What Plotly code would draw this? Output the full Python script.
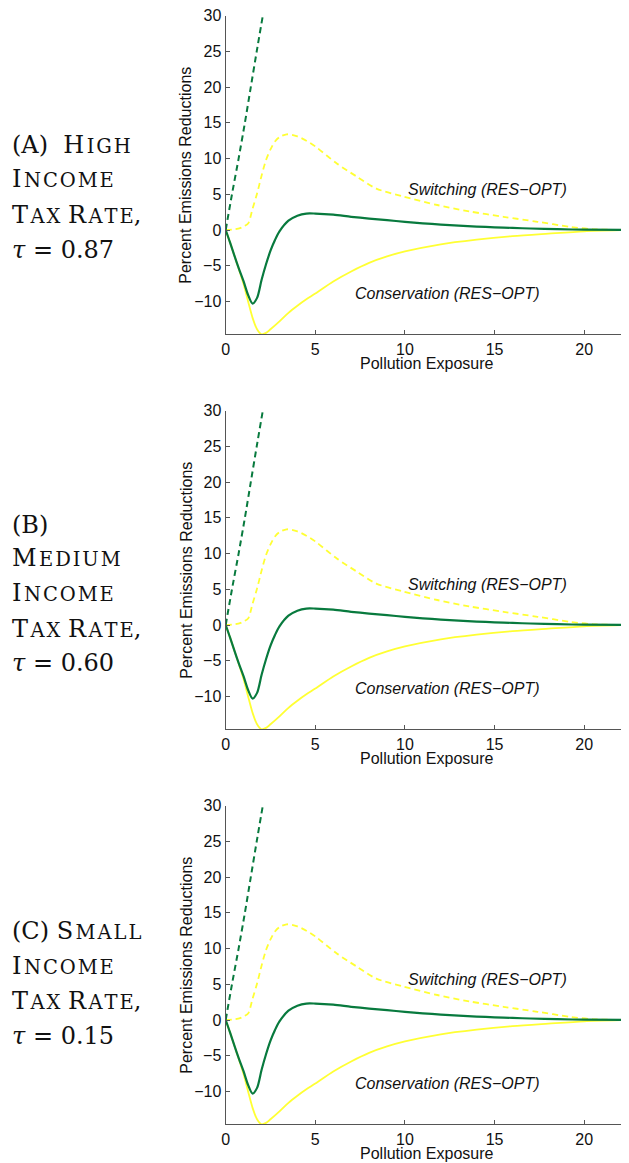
import plotly.graph_objects as go

# ---- data ----
green_solid_x = [0, 0.25, 0.5, 0.75, 1.0, 1.25, 1.5, 1.75, 2.0, 2.25, 2.5, 2.75, 3.0, 3.5, 4.0, 4.5, 5.0, 6.0, 7.0, 8.0, 9.0, 10, 11, 12, 13, 14, 15, 16, 17, 18.5, 20, 22.5]
green_solid_y = [0, -1.8, -3.7, -5.5, -7.2, -9.1, -10.3, -9.5, -7.0, -4.8, -2.9, -1.4, -0.2, 1.3, 2.0, 2.3, 2.3, 2.15, 1.85, 1.6, 1.37, 1.15, 0.94, 0.76, 0.61, 0.48, 0.38, 0.29, 0.21, 0.11, 0.05, 0.0]

green_dash_x = [0, 0.35, 0.72, 1.07, 1.4, 1.73, 2.07]
green_dash_y = [0, 5, 10, 15, 20, 25, 30]

yellow_dash_x = [0, 0.5, 0.8, 1.0, 1.25, 1.5, 1.75, 2.0, 2.25, 2.5, 2.75, 3.0, 3.4, 4.0, 4.5, 5.0, 6.2, 7.3, 8.4, 9.9, 11.8, 13.6, 15.5, 17.4, 19.2, 20.5, 22.5]
yellow_dash_y = [0, 0.1, 0.25, 0.5, 0.9, 3.0, 5.1, 7.6, 9.8, 11.3, 12.4, 13.0, 13.4, 13.1, 12.5, 11.7, 9.3, 7.5, 5.8, 4.7, 3.5, 2.6, 1.85, 1.15, 0.45, 0.1, 0.0]

yellow_solid_x = [0, 0.25, 0.5, 0.75, 1.0, 1.25, 1.5, 1.75, 2.0, 2.25, 2.5, 3.0, 3.5, 4.0, 4.5, 5.0, 6.0, 7.0, 8.0, 9.0, 10, 12, 14, 16, 18, 20, 22.5]
yellow_solid_y = [0, -1.8, -3.7, -5.6, -7.6, -10.0, -12.3, -13.9, -14.6, -14.4, -13.9, -12.8, -11.6, -10.6, -9.7, -8.9, -7.2, -5.8, -4.6, -3.7, -3.0, -2.0, -1.35, -0.85, -0.5, -0.18, 0.0]

x_range = [0, 22.5]
y_range = [-14.6, 30]
x_ticks = [0, 5, 10, 15, 20]
y_ticks = [-10, -5, 0, 5, 10, 15, 20, 25, 30]

label_switch = "Switching (RES\u2212OPT)"
label_conserv = "Conservation (RES\u2212OPT)"
x_title = "Pollution Exposure"
y_title = "Percent Emissions Reductions"

GREEN = "#087A3E"
YELLOW = "#FFFF33"
AXC = "#555555"
W, H = 629, 1163
OFF = 8  # the page body margin shifts the figure by 8px right and down
SMALL = 19.5
BIG = 24
HS = "\u200a"  # hair space for small-caps letter spacing


def sc(text):
    out = []
    for word in text.split(" "):
        if word and word[0].isalpha():
            rest = word[1:].upper()
            if rest.endswith(","):
                rest_core, tail = rest[:-1], ","
            else:
                rest_core, tail = rest, ""
            spaced = HS.join(rest_core)
            out.append(word[0].upper() + HS + f"<span style='font-size:{SMALL}px'>{spaced}</span>" + tail)
        else:
            out.append(word)
    return " ".join(out)


side_lines = [
    ["(A)\u00a0\u00a0" + sc("High"), sc("Income"), sc("Tax Rate,"), "<i>\u03c4</i> = 0.87"],
    ["(B)", sc("Medium"), sc("Income"), sc("Tax Rate,"), "<i>\u03c4</i> = 0.60"],
    ["(C) " + sc("Small"), sc("Income"), sc("Tax Rate,"), "<i>\u03c4</i> = 0.15"],
]
side_centers = [
    [144.7, 179.3, 215.3, 250.5],
    [525.5, 557.5, 593, 628.5, 663],
    [930.5, 965.5, 1001, 1035.5],
]

top_px = [15.7, 410.7, 805.7]
bot_px = [334.3, 729.3, 1124.3]
left_px = 225.7


def px_x(p):
    return (p - OFF) / W


def px_y(p):
    return 1 - (p - OFF) / H


fig = go.Figure()
ann = []
for i in range(3):
    n = "" if i == 0 else str(i + 1)
    xa, ya = "x" + n, "y" + n
    common = dict(xaxis=xa, yaxis=ya, mode="lines", showlegend=False, hoverinfo="skip")
    fig.add_trace(go.Scatter(x=yellow_solid_x, y=yellow_solid_y, line=dict(color=YELLOW, width=1.8, shape="spline", smoothing=0.8), **common))
    fig.add_trace(go.Scatter(x=yellow_dash_x, y=yellow_dash_y, line=dict(color=YELLOW, width=1.8, dash="6px,4px", shape="spline", smoothing=0.8), **common))
    fig.add_trace(go.Scatter(x=green_dash_x, y=green_dash_y, line=dict(color=GREEN, width=2, dash="6px,4px", shape="spline", smoothing=0.6), **common))
    fig.add_trace(go.Scatter(x=green_solid_x, y=green_solid_y, line=dict(color=GREEN, width=2.2, shape="spline", smoothing=0.8), **common))

    dom = [px_y(bot_px[i]), px_y(top_px[i])]
    axis_common = dict(showline=True, linecolor=AXC, linewidth=1.3, ticks="inside", ticklen=4,
                       tickcolor=AXC, tickwidth=1.2, showgrid=False, zeroline=False, automargin=False,
                       ticklabeloverflow="allow",
                       tickfont=dict(family="Liberation Sans, Arial, sans-serif", size=16, color="#111"))
    fig.layout["xaxis" + n] = dict(domain=[px_x(left_px), px_x(W)], range=x_range, tickvals=x_ticks,
                                   anchor=ya, **axis_common)
    fig.layout["yaxis" + n] = dict(domain=dom, range=y_range, tickvals=y_ticks,
                                   anchor=xa, **axis_common)

    tf = dict(family="Liberation Sans, Arial, sans-serif", size=16, color="#111")
    ann.append(dict(text=y_title, textangle=-90, x=px_x(185.7), y=px_y((top_px[i] + bot_px[i]) / 2),
                    xref="paper", yref="paper", showarrow=False, font=tf, xanchor="center", yanchor="middle"))
    ann.append(dict(text=x_title, x=px_x((left_px + W) / 2), y=px_y(bot_px[i] + 29),
                    xref="paper", yref="paper", showarrow=False, font=tf, xanchor="center", yanchor="middle"))
    ann.append(dict(text="<i>" + label_switch + "</i>", x=10.07, y=5.7, xref=xa, yref=ya,
                    showarrow=False, font=tf, xanchor="left", yanchor="middle"))
    ann.append(dict(text="<i>" + label_conserv + "</i>", x=7.09, y=-8.86, xref=xa, yref=ya,
                    showarrow=False, font=tf, xanchor="left", yanchor="middle"))

    for line, cy in zip(side_lines[i], side_centers[i]):
        ann.append(dict(text=line, x=px_x(10), y=px_y(cy), xref="paper", yref="paper",
                        showarrow=False, xanchor="left", yanchor="middle",
                        font=dict(family="DejaVu Serif, serif", size=BIG, color="#111")))

fig.update_layout(width=W, height=H, margin=dict(l=0, r=0, t=0, b=0, autoexpand=False),
                  paper_bgcolor="white", plot_bgcolor="white", annotations=ann)
fig.write_html("out.html")
